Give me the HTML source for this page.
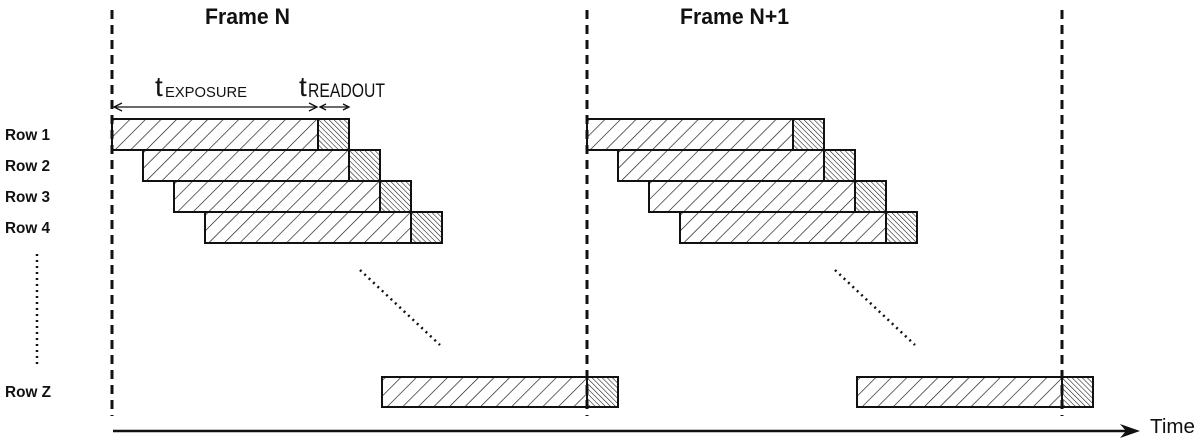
<!DOCTYPE html>
<html><head><meta charset="utf-8"><style>
html,body{margin:0;padding:0;background:#fff;}
svg{display:block;}
text{font-family:"Liberation Sans",sans-serif;fill:#111;}
</style></head><body>
<svg width="1200" height="443" viewBox="0 0 1200 443" xmlns="http://www.w3.org/2000/svg">
<defs>
<pattern id="exp" patternUnits="userSpaceOnUse" width="11" height="11" patternTransform="rotate(45)">
<line x1="0" y1="0" x2="0" y2="11" stroke="#111" stroke-width="1.3"/>
</pattern>
<pattern id="rd" patternUnits="userSpaceOnUse" width="3.6" height="3.6" patternTransform="rotate(-45)">
<line x1="0" y1="0" x2="0" y2="3.6" stroke="#111" stroke-width="1.1"/>
</pattern>
</defs>
<g font-weight="bold" font-size="16">
<text x="5" y="140" textLength="45" lengthAdjust="spacingAndGlyphs">Row 1</text>
<text x="5" y="171" textLength="45" lengthAdjust="spacingAndGlyphs">Row 2</text>
<text x="5" y="202" textLength="45" lengthAdjust="spacingAndGlyphs">Row 3</text>
<text x="5" y="233" textLength="45" lengthAdjust="spacingAndGlyphs">Row 4</text>
<text x="5" y="397" textLength="46" lengthAdjust="spacingAndGlyphs">Row Z</text>
</g>
<text x="205" y="24" font-size="22" font-weight="bold" textLength="85" lengthAdjust="spacingAndGlyphs">Frame N</text>
<text x="680" y="24" font-size="22" font-weight="bold" textLength="109" lengthAdjust="spacingAndGlyphs">Frame N+1</text>
<text x="155" y="96" font-size="28">t</text>
<text x="165" y="97" font-size="15" textLength="82" lengthAdjust="spacingAndGlyphs">EXPOSURE</text>
<text x="299" y="96" font-size="28">t</text>
<text x="308" y="97" font-size="19" textLength="77" lengthAdjust="spacingAndGlyphs">READOUT</text>
<g stroke="#111" stroke-width="1.3" fill="none">
<line x1="114" y1="107" x2="317" y2="107"/>
<polyline points="122,103 114,107 122,111"/>
<polyline points="309,103 317,107 309,111"/>
<line x1="320" y1="107" x2="349" y2="107"/>
<polyline points="326,104 320,107 326,110"/>
<polyline points="343,104 349,107 343,110"/>
</g>
<g id="f" stroke="#111" stroke-width="2">
<rect x="112" y="119" width="206" height="31" fill="url(#exp)"/><rect x="318" y="119" width="31" height="31" fill="url(#rd)"/>
<rect x="143" y="150" width="206" height="31" fill="url(#exp)"/><rect x="349" y="150" width="31" height="31" fill="url(#rd)"/>
<rect x="174" y="181" width="206" height="31" fill="url(#exp)"/><rect x="380" y="181" width="31" height="31" fill="url(#rd)"/>
<rect x="205" y="212" width="206" height="31" fill="url(#exp)"/><rect x="411" y="212" width="31" height="31" fill="url(#rd)"/>
<rect x="382" y="377" width="205" height="30" fill="url(#exp)"/><rect x="587" y="377" width="31" height="30" fill="url(#rd)"/>
<line x1="360" y1="270" x2="440" y2="345" stroke-width="2.5" stroke-dasharray="2,4"/>
</g>
<use href="#f" transform="translate(475,0)"/>
<g stroke="#111" stroke-width="3" stroke-dasharray="9,6">
<line x1="112" y1="10" x2="112" y2="416"/>
<line x1="587" y1="10" x2="587" y2="416"/>
<line x1="1062" y1="10" x2="1062" y2="416"/>
</g>
<line x1="37" y1="254" x2="37" y2="365" stroke="#111" stroke-width="2.5" stroke-dasharray="2,4"/>
<line x1="113" y1="431" x2="1130" y2="431" stroke="#111" stroke-width="2.5"/>
<polygon points="1140,431 1120,424 1126,431 1120,438" fill="#111"/>
<text x="1150" y="433" font-size="20" textLength="45" lengthAdjust="spacingAndGlyphs">Time</text>
</svg>
</body></html>
